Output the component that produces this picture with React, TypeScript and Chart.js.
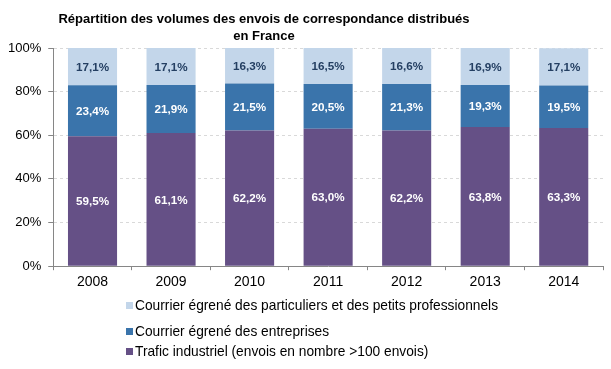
import React, { useEffect, useRef } from "react";
import { Chart, registerables } from "chart.js";

Chart.register(...registerables);

const TITLE_LINES = ["Répartition des volumes des envois de correspondance distribués", "en France"];
const YEARS = ["2008", "2009", "2010", "2011", "2012", "2013", "2014"];
const INDUSTRIEL = [59.5, 61.1, 62.2, 63.0, 62.2, 63.8, 63.3];
const ENTREPRISES = [23.4, 21.9, 21.5, 20.5, 21.3, 19.3, 19.5];
const PARTICULIERS = [17.1, 17.1, 16.3, 16.5, 16.6, 16.9, 17.1];
const SERIES_NAMES = [
  "Courrier égrené des particuliers et des petits professionnels",
  "Courrier égrené des entreprises",
  "Trafic industriel (envois en nombre >100 envois)",
];
const Y_TICKS = [0, 20, 40, 60, 80, 100];

const COLORS = { light: "#C3D6EA", mid: "#3A74AB", purple: "#655086" };
const FONT = "'Liberation Sans', Arial, sans-serif";

const fmt = (v: number) => v.toFixed(1).replace(".", ",") + "%";

const labelPlugin = {
  id: "barLabels",
  afterDatasetsDraw(chart: any) {
    const ctx = chart.ctx;
    ctx.save();
    ctx.font = `bold 11.7px ${FONT}`;
    ctx.textAlign = "center";
    ctx.textBaseline = "middle";
    chart.data.datasets.forEach((ds: any, di: number) => {
      const meta = chart.getDatasetMeta(di);
      meta.data.forEach((bar: any, i: number) => {
        const { x, y, base } = bar.getProps(["x", "y", "base"], true);
        ctx.fillStyle = ds.labelColor;
        ctx.fillText(fmt(ds.data[i]), x, (y + base) / 2 + 1);
      });
    });
    ctx.restore();
  },
};

export default function App() {
  const ref = useRef<HTMLCanvasElement>(null);
  useEffect(() => {
    document.body.style.margin = "0";
    const chart = new Chart(ref.current!, {
      type: "bar",
      data: {
        labels: YEARS,
        datasets: [
          { label: SERIES_NAMES[2], data: INDUSTRIEL, backgroundColor: COLORS.purple, labelColor: "#FFFFFF" } as any,
          { label: SERIES_NAMES[1], data: ENTREPRISES, backgroundColor: COLORS.mid, labelColor: "#FFFFFF" } as any,
          { label: SERIES_NAMES[0], data: PARTICULIERS, backgroundColor: COLORS.light, labelColor: "#243F62" } as any,
        ],
      },
      options: {
        animation: false,
        responsive: true,
        maintainAspectRatio: false,
        datasets: { bar: { barPercentage: 1, categoryPercentage: 0.625 } },
        layout: { padding: { left: 1, right: 8, top: 48, bottom: 74 } },
        plugins: { legend: { display: false }, title: { display: false }, tooltip: { enabled: false } },
        scales: {
          x: {
            stacked: true,
            grid: { drawOnChartArea: false, tickLength: 4, tickColor: "#868686", offset: true },
            border: { color: "#868686" },
            ticks: { color: "#000", font: { family: FONT, size: 14 }, padding: 4 },
          },
          y: {
            stacked: true,
            min: 0,
            max: 100,
            afterBuildTicks: (axis: any) => {
              axis.ticks = Y_TICKS.map((v) => ({ value: v }));
            },
            grid: { color: "#D9D9D9", tickColor: "#868686", tickLength: 5 },
            border: { color: "#868686", dash: [3, 3] },
            ticks: { color: "#000", font: { family: FONT, size: 13 }, padding: 7, callback: (v: any) => v + "%" },
          },
        },
      },
      plugins: [labelPlugin],
    });
    return () => chart.destroy();
  }, []);

  const legendItems = [
    { text: SERIES_NAMES[0], color: COLORS.light, cy: 305.5 },
    { text: SERIES_NAMES[1], color: COLORS.mid, cy: 331.5 },
    { text: SERIES_NAMES[2], color: COLORS.purple, cy: 351.5 },
  ];

  return (
    <div style={{ position: "fixed", left: 0, top: 0, width: 611, height: 369, background: "#fff", fontFamily: FONT }}>
      <canvas ref={ref} />
      <div
        style={{
          position: "absolute",
          left: 0,
          top: 10,
          width: 528,
          textAlign: "center",
          fontWeight: "bold",
          fontSize: 13,
          lineHeight: "17px",
          color: "#000",
        }}
      >
        {TITLE_LINES.map((l, i) => (
          <div key={i}>{l}</div>
        ))}
      </div>
      {legendItems.map((it, i) => (
        <div
          key={i}
          style={{
            position: "absolute",
            left: 126,
            top: it.cy - 8,
            height: 16,
            display: "flex",
            alignItems: "center",
            fontSize: 13.75,
            color: "#000",
            whiteSpace: "nowrap",
          }}
        >
          <span style={{ display: "inline-block", width: 7, height: 7, background: it.color, marginRight: 2 }} />
          <span>{it.text}</span>
        </div>
      ))}
    </div>
  );
}
